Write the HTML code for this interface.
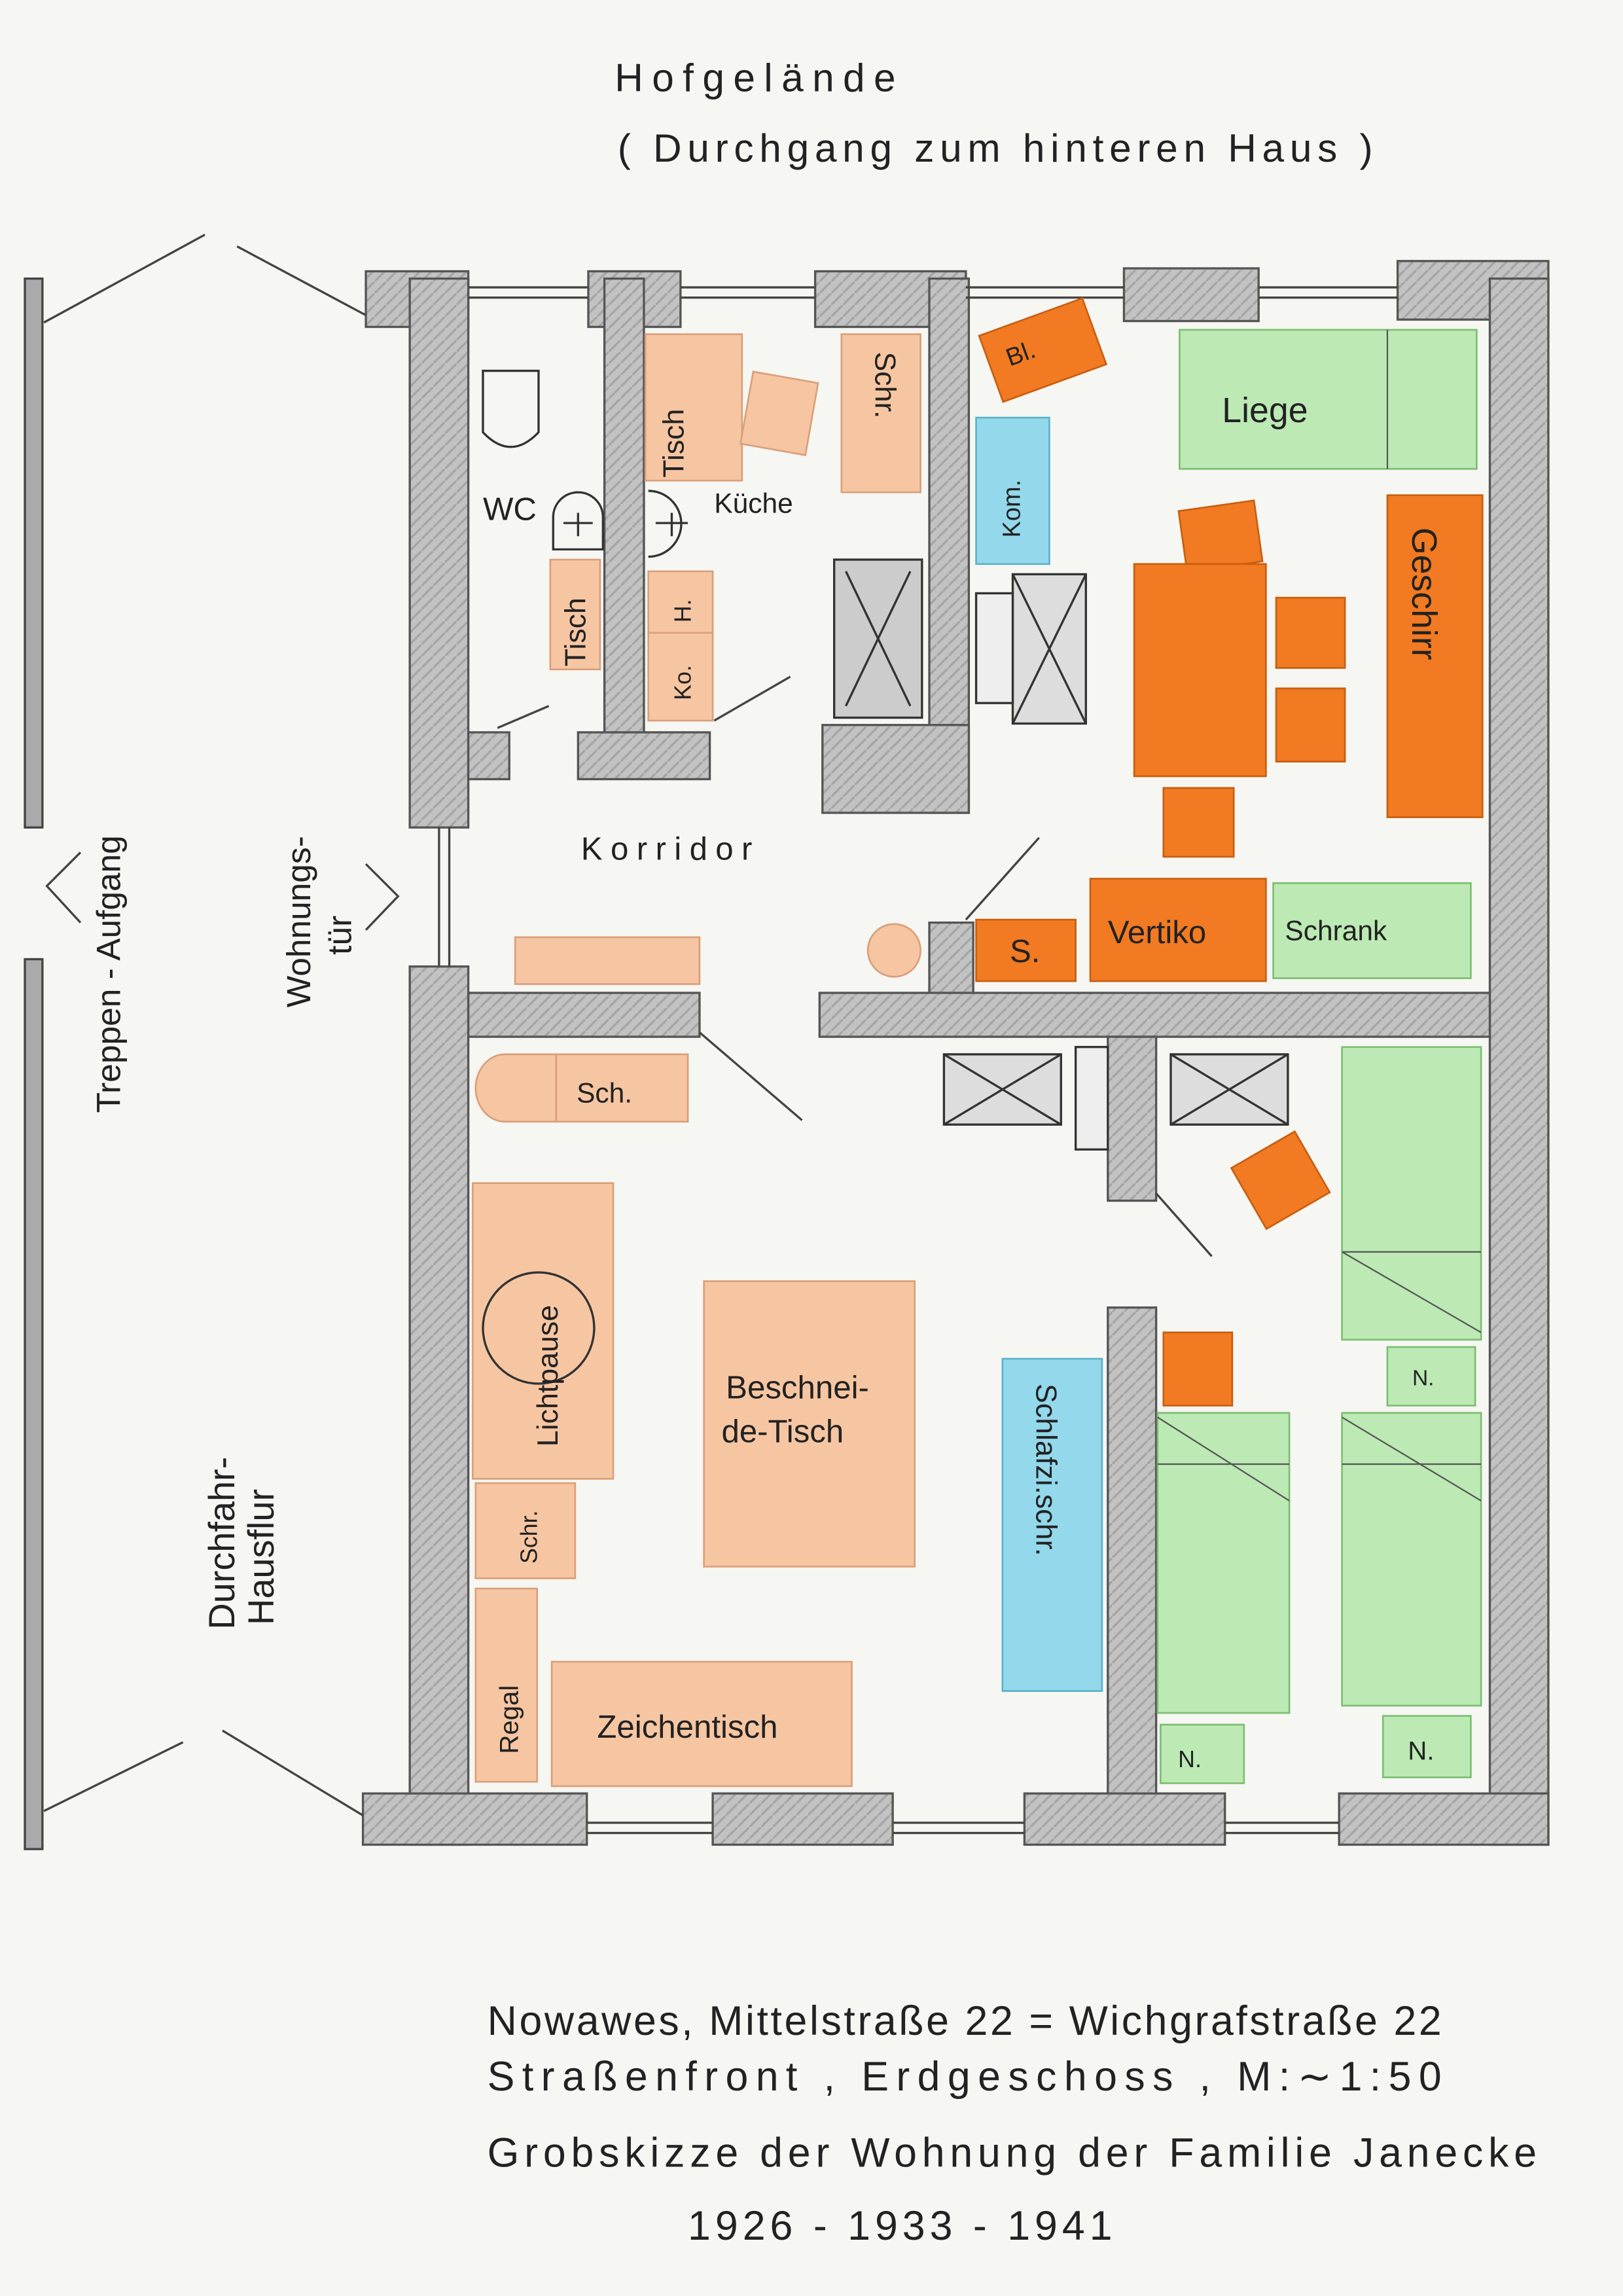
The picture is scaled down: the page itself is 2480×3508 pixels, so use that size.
<!DOCTYPE html>
<html><head><meta charset="utf-8"><style>
html,body{margin:0;padding:0;background:#f6f6f3}
svg{display:block}
text{font-family:"Liberation Sans",sans-serif;fill:#222}
</style></head><body>
<svg width="2480" height="3508" viewBox="0 0 1109 1568" xmlns="http://www.w3.org/2000/svg">
<rect width="1109" height="1568" fill="#f6f6f3"/>
<defs>
<pattern id="g" width="8" height="8" patternUnits="userSpaceOnUse"><rect width="8" height="8" fill="#c2c2c2"/><path d="M0 8L8 0" stroke="#a5a5a5" stroke-width="1.5"/></pattern>
</defs>
<g fill="url(#g)" stroke="#555" stroke-width="1.5">
<rect x="250" y="185" width="70" height="38"/>
<rect x="402" y="185" width="63" height="38"/>
<rect x="557" y="185" width="103" height="38"/>
<rect x="768" y="183" width="92" height="36"/>
<rect x="955" y="178" width="103" height="40"/>
<rect x="280" y="190" width="40" height="375"/>
<rect x="280" y="660" width="40" height="600"/>
<rect x="1018" y="190" width="40" height="1070"/>
<rect x="413" y="190" width="27" height="340"/>
<rect x="320" y="500" width="28" height="32"/>
<rect x="395" y="500" width="90" height="32"/>
<rect x="635" y="190" width="27" height="365"/>
<rect x="562" y="495" width="100" height="60"/>
<rect x="635" y="630" width="30" height="60"/>
<rect x="320" y="678" width="158" height="30"/>
<rect x="560" y="678" width="458" height="30"/>
<rect x="757" y="708" width="33" height="112"/>
<rect x="757" y="893" width="33" height="337"/>
<rect x="248" y="1225" width="153" height="35"/>
<rect x="487" y="1225" width="123" height="35"/>
<rect x="700" y="1225" width="137" height="35"/>
<rect x="915" y="1225" width="143" height="35"/>
</g>
<g stroke="#444" stroke-width="1.5" fill="none">
<path d="M320 196H402M320 203H402M465 196H557M465 203H557M660 196H768M660 203H768M860 196H955M860 203H955"/>
<path d="M401 1245H487M401 1252H487M610 1245H700M610 1252H700M837 1245H915M837 1252H915"/>
<path d="M300 565V660M307 565V660"/>
<rect x="17" y="190" width="12" height="375" fill="#aaa"/>
<rect x="17" y="655" width="12" height="608" fill="#aaa"/>
<path d="M30 220L140 160M162 168L250 215M30 1237L125 1190M152 1182L248 1240"/>
<path d="M55 630L32 605L55 582M250 590L272 612L250 635"/>
<path d="M340 497L375 482M488 492L540 462M660 628L710 572M478 705L548 765M790 815L828 858"/>
</g>
<g stroke="#333" stroke-width="1.5" fill="none">
<path d="M330 253H368V295Q349 315 330 295Z"/>
<path d="M378 353A17 17 0 0 1 412 353V375H378Z"/>
<path d="M443 335A22 22 0 0 1 443 380"/>
<path d="M448 357H470M459 350V366"/>
<path d="M385 357H405M395 350V366"/>
<rect x="570" y="382" width="60" height="108" fill="#ccc"/><path d="M578 390L622 482M622 390L578 482"/>
<rect x="692" y="392" width="50" height="102" fill="#ddd"/><path d="M692 392L742 494M742 392L692 494"/>
<rect x="645" y="720" width="80" height="48" fill="#ddd"/><path d="M645 720L725 768M725 720L645 768"/>
<rect x="800" y="720" width="80" height="48" fill="#ddd"/><path d="M800 720L880 768M880 720L800 768"/>
<rect x="667" y="405" width="25" height="75" fill="#eee"/>
<rect x="735" y="715" width="22" height="70" fill="#eee"/>
</g>
<g fill="#f6c6a2" stroke="#d9a07a" stroke-width="1.2">
<rect x="441" y="228" width="66" height="100"/>
<rect x="510" y="257" width="45" height="50" transform="rotate(10 532 282)"/>
<rect x="575" y="228" width="54" height="108"/>
<rect x="376" y="382" width="34" height="75"/>
<rect x="443" y="390" width="44" height="42"/>
<rect x="443" y="432" width="44" height="60"/>
<rect x="352" y="640" width="126" height="32"/>
<circle cx="611" cy="649" r="18"/>
<path d="M380 720H470V766H380Z"/>
<path d="M380 720H345A20 23 0 0 0 345 766H380Z"/>
<rect x="323" y="808" width="96" height="202"/>
<rect x="481" y="875" width="144" height="195"/>
<rect x="325" y="1013" width="68" height="65"/>
<rect x="325" y="1085" width="42" height="132"/>
<rect x="377" y="1135" width="205" height="85"/>
</g>
<circle cx="368" cy="907" r="38" fill="none" stroke="#333" stroke-width="1.5"/>
<g fill="#f17a22" stroke="#c85f10" stroke-width="1.2">
<rect x="675" y="215" width="75" height="48" transform="rotate(-20 712 239)"/>
<rect x="808" y="345" width="52" height="42" transform="rotate(-8 834 366)"/>
<rect x="775" y="385" width="90" height="145"/>
<rect x="872" y="408" width="47" height="48"/>
<rect x="872" y="470" width="47" height="50"/>
<rect x="948" y="338" width="65" height="220"/>
<rect x="795" y="538" width="48" height="47"/>
<rect x="667" y="628" width="68" height="42"/>
<rect x="745" y="600" width="120" height="70"/>
<rect x="850" y="782" width="50" height="48" transform="rotate(-30 875 806)"/>
<rect x="795" y="910" width="47" height="50"/>
</g>
<g fill="#bce9b4" stroke="#7cbf72" stroke-width="1.2">
<rect x="806" y="225" width="203" height="95"/>
<rect x="870" y="603" width="135" height="65"/>
<rect x="917" y="715" width="95" height="200"/>
<rect x="948" y="920" width="60" height="40"/>
<rect x="791" y="965" width="90" height="205"/>
<rect x="917" y="965" width="95" height="200"/>
<rect x="793" y="1178" width="57" height="40"/>
<rect x="945" y="1172" width="60" height="42"/>
</g>
<g stroke="#555" stroke-width="1" fill="none">
<path d="M948 225V320M917 855H1012M917 855L1012 910M791 1000H881M791 968L881 1025M917 1000H1012M917 968L1012 1025"/>
</g>
<g fill="#93d8eb" stroke="#5ab3cc" stroke-width="1.2">
<rect x="667" y="285" width="50" height="100"/>
<rect x="685" y="928" width="68" height="227"/>
</g>
<g font-size="22">
<text x="420" y="62" font-size="27" textLength="192">Hofgelände</text>
<text x="422" y="110" font-size="27" textLength="516">( Durchgang zum hinteren Haus )</text>
<text x="330" y="355">WC</text>
<text x="488" y="350" font-size="19">Küche</text>
<text x="397" y="587" textLength="117">Korridor</text>
<text x="835" y="288" font-size="24">Liege</text>
<text x="757" y="644">Vertiko</text>
<text x="878" y="642" font-size="19">Schrank</text>
<text x="690" y="657">S.</text>
<text x="394" y="753" font-size="19">Sch.</text>
<text x="496" y="955">Beschnei-</text>
<text x="493" y="985">de-Tisch</text>
<text x="408" y="1187">Zeichentisch</text>
<text x="965" y="946" font-size="15">N.</text>
<text x="805" y="1207" font-size="16">N.</text>
<text x="962" y="1202" font-size="18">N.</text>
<text x="333" y="1390" font-size="28" textLength="652">Nowawes, Mittelstraße 22 = Wichgrafstraße 22</text>
<text x="333" y="1428" font-size="28" textLength="652">Straßenfront , Erdgeschoss ,   M:∼1:50</text>
<text x="333" y="1480" font-size="28" textLength="717">Grobskizze der Wohnung  der Familie Janecke</text>
<text x="470" y="1530" font-size="28" textLength="290">1926 - 1933 - 1941</text>
</g>
<g font-size="20">
<text transform="translate(467,326) rotate(-90)">Tisch</text>
<text transform="translate(598,240) rotate(90)">Schr.</text>
<text transform="translate(400,455) rotate(-90)">Tisch</text>
<text transform="translate(472,425) rotate(-90)" font-size="16">H.</text>
<text transform="translate(472,478) rotate(-90)" font-size="16">Ko.</text>
<text transform="translate(697,367) rotate(-90)" font-size="17">Kom.</text>
<text transform="translate(690,250) rotate(-20)" font-size="17">Bl.</text>
<text transform="translate(965,360) rotate(90)" font-size="24">Geschirr</text>
<text transform="translate(381,988) rotate(-90)">Lichtpause</text>
<text transform="translate(367,1068) rotate(-90)" font-size="16">Schr.</text>
<text transform="translate(354,1198) rotate(-90)" font-size="18">Regal</text>
<text transform="translate(708,945) rotate(90)">Schlafzi.schr.</text>
<text transform="translate(82,760) rotate(-90)" font-size="23">Treppen - Aufgang</text>
<text transform="translate(212,688) rotate(-90)" font-size="23">Wohnungs-</text>
<text transform="translate(240,652) rotate(-90)" font-size="23">tür</text>
<text transform="translate(160,1113) rotate(-90)" font-size="25">Durchfahr-</text>
<text transform="translate(187,1110) rotate(-90)" font-size="25">Hausflur</text>
</g>
</svg>
</body></html>
